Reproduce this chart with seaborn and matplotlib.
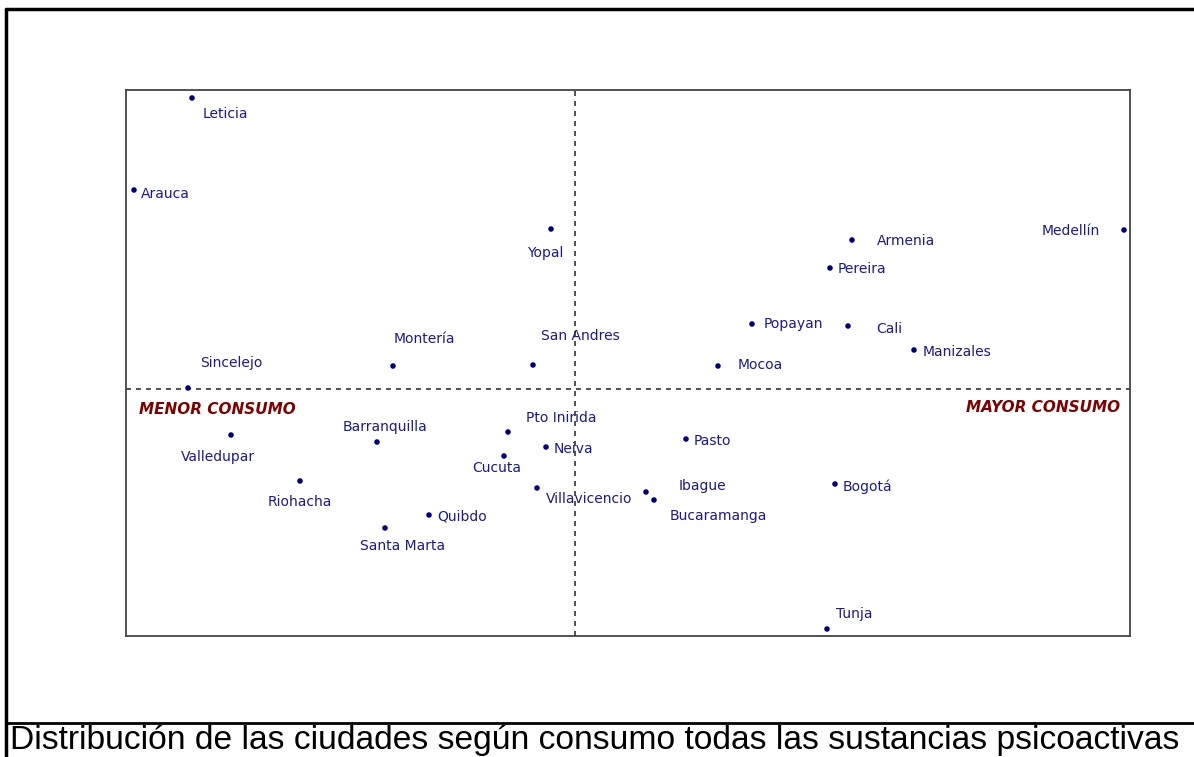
import matplotlib
matplotlib.use("Agg")
import matplotlib.pyplot as plt
import pandas as pd
import seaborn as sns

# city positions on the two factorial axes
cities = ["Leticia", "Arauca", "Yopal", "Armenia", "Medellín", "Pereira", "Popayan",
          "Cali", "Manizales", "Mocoa", "San Andres", "Montería", "Sincelejo",
          "Valledupar", "Barranquilla", "Pto Inirida", "Neiva", "Cucuta", "Pasto",
          "Riohacha", "Villavicencio", "Ibague", "Bucaramanga", "Bogotá", "Quibdo",
          "Santa Marta", "Tunja"]
dim1 = [-3.83, -4.41, -0.24, 2.77, 5.49, 2.55, 1.77,
        2.73, 3.39, 1.43, -0.42, -1.82, -3.87,
        -3.44, -1.98, -0.67, -0.29, -0.71, 1.11,
        -2.75, -0.38, 0.71, 0.79, 2.60, -1.46,
        -1.90, 2.52]
dim2 = [2.91, 1.99, 1.60, 1.49, 1.59, 1.21, 0.65,
        0.63, 0.39, 0.23, 0.24, 0.23, 0.01,
        -0.46, -0.53, -0.43, -0.58, -0.67, -0.50,
        -0.92, -0.99, -1.03, -1.11, -0.95, -1.26,
        -1.39, -2.40]

# label placement (offset in pixels, alignment)
label_pos = {
    "Leticia": (11, -16, "left"), "Arauca": (7, -4, "left"), "Yopal": (-6, -24, "center"),
    "Armenia": (25, -1, "left"), "Medellín": (-24, -1, "right"), "Pereira": (8, -1, "left"),
    "Popayan": (12, 0, "left"), "Cali": (28, -3, "left"), "Manizales": (9, -2, "left"),
    "Mocoa": (20, 1, "left"), "San Andres": (8, 29, "left"), "Montería": (1, 27, "left"),
    "Sincelejo": (12, 25, "left"), "Valledupar": (-50, -22, "left"),
    "Barranquilla": (-34, 15, "left"), "Pto Inirida": (18, 14, "left"),
    "Neiva": (8, -2, "left"), "Cucuta": (-32, -12, "left"), "Pasto": (8, -2, "left"),
    "Riohacha": (-32, -21, "left"), "Villavicencio": (9, -11, "left"),
    "Ibague": (33, 6, "left"), "Bucaramanga": (16, -16, "left"), "Bogotá": (8, -3, "left"),
    "Quibdo": (8, -2, "left"), "Santa Marta": (-25, -18, "left"), "Tunja": (9, 15, "left"),
}

df = pd.DataFrame({"ciudad": cities, "dim1": dim1, "dim2": dim2})

sns.set_style("white")
plt.rcParams["font.family"] = ["DejaVu Sans"]

fig = plt.figure(figsize=(11.94, 7.57), dpi=100)
ax = fig.add_axes([126 / 1194, 1 - 636 / 757, 1004 / 1194, 546 / 757])

ax.axvline(0, color="#333333", lw=1.2, ls=(0, (3, 3)), zorder=1)
ax.axhline(0, color="#333333", lw=1.2, ls=(0, (3, 3)), zorder=1)

sns.scatterplot(data=df, x="dim1", y="dim2", color="#000080", s=16,
                edgecolor="none", marker="o", ax=ax, zorder=2)

for name, x, y in zip(cities, dim1, dim2):
    dx, dy, ha = label_pos[name]
    ax.annotate(name, (x, y), xytext=(dx, dy), textcoords="offset pixels",
                ha=ha, va="center", fontsize=10, color="#1a1a8c",
                bbox=dict(facecolor="white", edgecolor="none", pad=0.3) if name == "Cucuta" else None,
                zorder=3)

ax.text(0.013, 0.414, "MENOR CONSUMO", transform=ax.transAxes, ha="left", va="center",
        fontsize=11, fontweight="bold", fontstyle="italic", color="#800000")
ax.text(0.990, 0.418, "MAYOR CONSUMO", transform=ax.transAxes, ha="right", va="center",
        fontsize=11, fontweight="bold", fontstyle="italic", color="#800000")

ax.set_xlim(-4.49, 5.55)
ax.set_ylim(-2.47, 2.99)
ax.set_xticks([])
ax.set_yticks([])
ax.set_xlabel("")
ax.set_ylabel("")
for sp in ax.spines.values():
    sp.set_visible(True)
    sp.set_color("#444444")
    sp.set_linewidth(1.3)

# outer frame and caption rule
W, H = 1194, 757
fig.add_artist(plt.Line2D([6 / W, 6 / W], [0, 1 - 9 / H], color="black", lw=2.5))
fig.add_artist(plt.Line2D([6 / W, 1], [1 - 9 / H, 1 - 9 / H], color="black", lw=2.5))
fig.add_artist(plt.Line2D([6 / W, 1], [1 - 723 / H, 1 - 723 / H], color="black", lw=2))

fig.text(10 / W, 1 - 740 / H, "Distribución de las ciudades según consumo todas las sustancias psicoactivas",
         ha="left", va="center", fontsize=24.2, family=["Liberation Sans", "DejaVu Sans"], color="black")

fig.savefig("out.png", dpi=100)
